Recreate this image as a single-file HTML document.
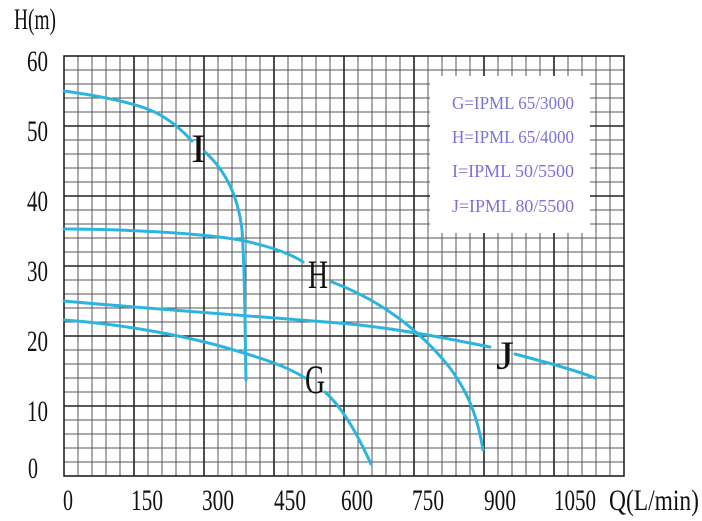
<!DOCTYPE html>
<html><head><meta charset="utf-8"><style>body{margin:0;background:#fff}svg{display:block}</style></head><body>
<svg width="702" height="521" viewBox="0 0 702 521" xmlns="http://www.w3.org/2000/svg" font-family="Liberation Serif, serif">
<g stroke="#555" stroke-width="1">
<path d="M78 56V476M92 56V476M106 56V476M120 56V476M148 56V476M162 56V476M176 56V476M190 56V476M218 56V476M232 56V476M246 56V476M260 56V476M288 56V476M302 56V476M316 56V476M330 56V476M358 56V476M372 56V476M386 56V476M400 56V476M428 56V476M442 56V476M456 56V476M470 56V476M498 56V476M512 56V476M526 56V476M540 56V476M568 56V476M582 56V476M596 56V476M610 56V476"/>
<path d="M64 70H624M64 84H624M64 98H624M64 112H624M64 140H624M64 154H624M64 168H624M64 182H624M64 210H624M64 224H624M64 238H624M64 252H624M64 280H624M64 294H624M64 308H624M64 322H624M64 350H624M64 364H624M64 378H624M64 392H624M64 420H624M64 434H624M64 448H624M64 462H624"/>
</g>
<g stroke="#222" stroke-width="1.6">
<path d="M134 56V476M204 56V476M274 56V476M344 56V476M414 56V476M484 56V476M554 56V476"/>
<path d="M64 126H624M64 196H624M64 266H624M64 336H624M64 406H624"/>
<rect x="64" y="56" width="560" height="420" fill="none"/>
</g>
<rect x="430" y="76" width="160" height="157" fill="#fff"/>
<g fill="#7b72d8" font-size="18">
<text x="452" y="109" textLength="122" lengthAdjust="spacingAndGlyphs">G=IPML 65/3000</text>
<text x="452" y="143" textLength="122" lengthAdjust="spacingAndGlyphs">H=IPML 65/4000</text>
<text x="452" y="177" textLength="122" lengthAdjust="spacingAndGlyphs">I=IPML 50/5500</text>
<text x="452" y="212" textLength="122" lengthAdjust="spacingAndGlyphs">J=IPML 80/5500</text>
</g>
<g fill="none" stroke="#2bb5de" stroke-width="3" stroke-linecap="round">
<path d="M64 91 C100 96,130 102,150 110 C165 116,180 128,192 141"/>
<path d="M205 152 C225 170,238 195,242 230 C245 270,245 330,246 380"/>
<path d="M64 229 C120 229,200 233,240 240 C265 245,290 253,303 262"/>
<path d="M332 282 C380 300,420 330,450 368 C470 395,478 420,483 450"/>
<path d="M64 301 C150 309,280 318,350 324 C400 329,450 339,490 347"/>
<path d="M515 354 C545 362,575 370,595 378"/>
<path d="M64 320 C120 324,180 335,220 346 C255 356,285 365,305 378"/>
<path d="M325 392 C345 410,360 440,371 464"/>
</g>
<g fill="#111" font-size="40">
<text x="191" y="162" textLength="15" lengthAdjust="spacingAndGlyphs">I</text>
<text x="308" y="288" textLength="20" lengthAdjust="spacingAndGlyphs">H</text>
<text x="305" y="393" textLength="20" lengthAdjust="spacingAndGlyphs">G</text>
<text x="496" y="369" textLength="18" lengthAdjust="spacingAndGlyphs">J</text>
</g>
<g fill="#111" font-size="30">
<text x="14" y="29" textLength="42" lengthAdjust="spacingAndGlyphs">H(m)</text>
<text x="27" y="71" textLength="21" lengthAdjust="spacingAndGlyphs">60</text>
<text x="27" y="141" textLength="21" lengthAdjust="spacingAndGlyphs">50</text>
<text x="27" y="211" textLength="21" lengthAdjust="spacingAndGlyphs">40</text>
<text x="27" y="281" textLength="21" lengthAdjust="spacingAndGlyphs">30</text>
<text x="27" y="351" textLength="21" lengthAdjust="spacingAndGlyphs">20</text>
<text x="27" y="421" textLength="21" lengthAdjust="spacingAndGlyphs">10</text>
<text x="28" y="478" textLength="10" lengthAdjust="spacingAndGlyphs">0</text>
<text x="63" y="510" textLength="10" lengthAdjust="spacingAndGlyphs">0</text>
<text x="131" y="510" textLength="32" lengthAdjust="spacingAndGlyphs">150</text>
<text x="202" y="510" textLength="32" lengthAdjust="spacingAndGlyphs">300</text>
<text x="274" y="510" textLength="32" lengthAdjust="spacingAndGlyphs">450</text>
<text x="341" y="510" textLength="32" lengthAdjust="spacingAndGlyphs">600</text>
<text x="412" y="510" textLength="32" lengthAdjust="spacingAndGlyphs">750</text>
<text x="484" y="510" textLength="32" lengthAdjust="spacingAndGlyphs">900</text>
<text x="554" y="510" textLength="42" lengthAdjust="spacingAndGlyphs">1050</text>
<text x="609" y="510" textLength="90" lengthAdjust="spacingAndGlyphs">Q(L/min)</text>
</g>
</svg>
</body></html>
